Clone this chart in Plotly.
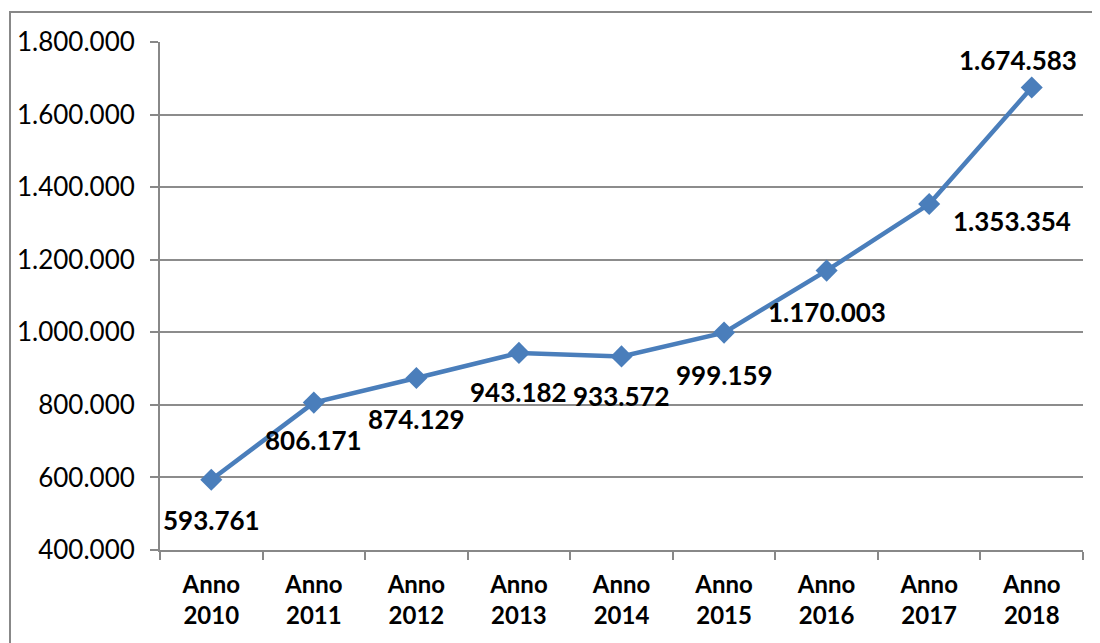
import plotly.graph_objects as go

categories = ["Anno<br>2010", "Anno<br>2011", "Anno<br>2012", "Anno<br>2013", "Anno<br>2014",
              "Anno<br>2015", "Anno<br>2016", "Anno<br>2017", "Anno<br>2018"]
values = [593761, 806171, 874129, 943182, 933572, 999159, 1170003, 1353354, 1674583]
label_texts = ["593.761", "806.171", "874.129", "943.182", "933.572", "999.159",
               "1.170.003", "1.353.354", "1.674.583"]
tick_vals = [400000, 600000, 800000, 1000000, 1200000, 1400000, 1600000, 1800000]
tick_texts = ["400.000", "600.000", "800.000", "1.000.000", "1.200.000", "1.400.000",
              "1.600.000", "1.800.000"]

# label offsets (pixels) relative to each point
label_dx = [0, 0, 0, 0, 0, 0, 0, 83, -14]
label_dy = [-40, -37, -41, -39, -40, -42, -41, -17, 28]

FONT = "Lato"
fig = go.Figure()
fig.add_trace(go.Scatter(
    x=categories, y=values, mode="lines+markers",
    line=dict(color="#4A7EBB", width=4.5),
    marker=dict(symbol="diamond", size=17, color="#4A7EBB"),
    showlegend=False, hoverinfo="skip",
))

for c, v, t, dx, dy in zip(categories, values, label_texts, label_dx, label_dy):
    fig.add_annotation(x=c, y=v, text=t, showarrow=False, xshift=dx, yshift=dy,
                       font=dict(family=FONT, size=26, color="black", weight="bold"))

fig.update_layout(
    width=1092, height=635,
    margin=dict(l=152, r=17, t=34, b=93),
    paper_bgcolor="white", plot_bgcolor="white",
    font=dict(family=FONT, color="black"),
    xaxis=dict(
        type="category", range=[-0.5, 8.5], automargin=False,
        showgrid=False, showline=True, linecolor="#888888", linewidth=2,
        ticks="outside", ticklen=8, tickcolor="#888888", tickwidth=2,
        tickson="boundaries", ticklabelstandoff=12,
        tickfont=dict(family=FONT, size=24, color="black", weight="bold"),
        fixedrange=True,
    ),
    yaxis=dict(
        range=[400000, 1800000], tickvals=tick_vals, ticktext=tick_texts,
        automargin=False,
        showgrid=True, gridcolor="#8C8C8C", gridwidth=2,
        showline=True, linecolor="#888888", linewidth=2,
        ticks="outside", ticklen=8, tickcolor="#888888", tickwidth=2,
        ticklabelstandoff=10,
        tickfont=dict(family=FONT, size=26, color="black"),
        zeroline=False, fixedrange=True,
    ),
    shapes=[dict(type="rect", xref="paper", yref="paper",
                 x0=-(150 / 923), x1=1.05, y0=-0.3, y1=1 + 30 / 508,
                 line=dict(color="#888888", width=2), layer="below")],
)

fig.write_html("out.html")
